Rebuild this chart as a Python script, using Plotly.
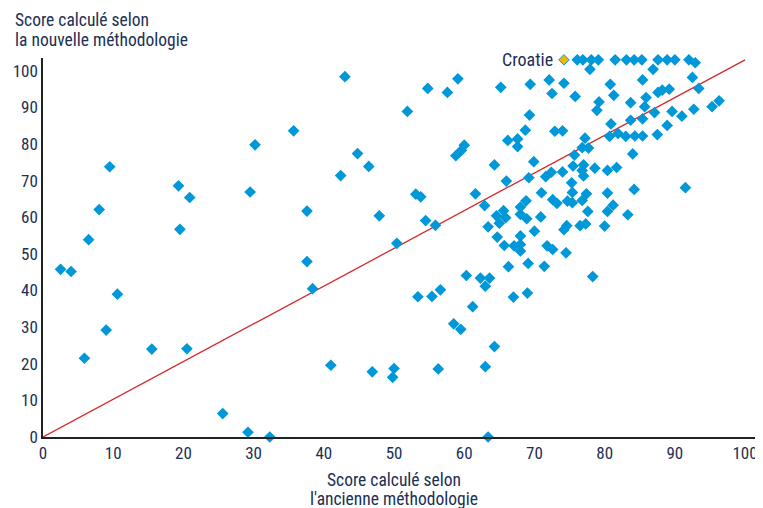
import plotly.graph_objects as go

# Old methodology score (x) and new methodology score (y)
old_score = [
    2.5, 4.0, 5.9, 6.5, 8.0, 9.5, 9.0, 10.6, 15.5, 19.3, 19.5, 20.9, 20.5, 25.6, 29.2, 29.5, 30.2, 32.3,
    43.0, 54.8, 59.1, 57.6, 51.9, 35.7, 44.8, 46.4, 42.4, 37.6, 47.9, 58.8, 59.6, 60.0, 53.1, 53.8,
    61.6, 62.9, 54.5, 55.9, 50.4, 37.6, 38.4, 63.4, 60.3, 62.3, 63.0, 63.6, 53.4, 55.4, 56.6, 61.2,
    58.5, 59.5, 41.0, 46.9, 50.0, 49.8, 56.3, 63.0, 63.4, 67.0, 69.0, 64.3,
    65.2, 69.4, 72.1, 74.2, 72.5, 75.8, 80.8, 81.3, 85.4, 92.5, 93.4, 87.6, 88.2, 89.2, 85.9, 79.2,
    78.9, 83.7, 85.7, 87.1, 89.6, 91.0, 92.7, 95.3, 96.3, 69.3, 83.7, 85.4, 88.9, 68.7, 72.9, 74.0,
    80.9, 81.9, 80.7, 83.0, 84.3, 85.4, 87.5, 66.2, 67.6, 67.6, 77.2, 76.8, 77.7, 75.7, 84.0, 64.3,
    69.9, 77.0, 75.5, 72.4, 74.0, 76.8, 77.0, 78.6, 80.4, 81.7, 71.6, 66.0, 69.2, 75.3, 84.2, 71.0,
    75.4, 77.4, 80.4, 68.8, 68.0, 65.6, 64.6, 65.9, 68.0, 68.9, 65.0, 70.9, 72.6, 73.2, 74.7, 75.4,
    76.8, 77.6, 80.4, 81.2, 83.3, 80.0, 76.5, 77.3, 74.2, 74.6, 70.0, 64.7, 68.0, 65.7, 67.1, 68.0,
    68.0, 71.8, 72.6, 74.5, 66.3, 69.1, 71.4, 78.3, 91.5, 77.9, 86.9,
    76.1, 76.9, 78.1, 79.1, 81.5, 83.1, 84.2, 85.3, 87.6, 88.9, 90.0, 92.0, 92.9,
]
new_score = [
    45.8, 45.2, 21.5, 53.9, 62.1, 73.8, 29.2, 39.0, 24.0, 68.6, 56.7, 65.4, 24.1, 6.4, 1.3, 66.9, 79.8, 0.0,
    98.4, 95.2, 97.8, 94.1, 88.9, 83.6, 77.4, 73.9, 71.4, 61.7, 60.4, 76.8, 78.3, 79.7, 66.3, 65.6,
    66.4, 63.2, 59.1, 57.8, 52.9, 47.9, 40.5, 57.4, 44.1, 43.4, 41.2, 43.4, 38.3, 38.4, 40.2, 35.6,
    30.9, 29.4, 19.6, 17.8, 18.7, 16.3, 18.6, 19.2, 0.0, 38.2, 39.3, 24.7,
    95.5, 96.3, 97.5, 96.6, 93.8, 93.0, 96.3, 93.3, 97.5, 98.2, 95.2, 94.1, 94.7, 95.0, 92.7, 91.5,
    89.2, 91.3, 90.2, 88.6, 88.9, 87.6, 89.5, 90.2, 91.8, 87.9, 86.5, 86.9, 85.1, 83.8, 83.5, 83.6,
    85.5, 82.9, 82.1, 82.1, 82.2, 82.2, 82.6, 81.0, 81.4, 79.3, 81.6, 79.0, 78.9, 77.0, 77.3, 74.3,
    75.2, 74.3, 74.0, 72.3, 72.4, 72.8, 71.3, 73.4, 72.8, 73.6, 71.1, 69.9, 70.8, 69.4, 67.6, 66.7,
    66.8, 66.4, 66.6, 64.5, 62.8, 61.8, 60.4, 59.9, 60.8, 59.6, 58.4, 60.1, 64.8, 63.8, 64.4, 64.0,
    64.6, 61.6, 61.6, 63.3, 60.7, 57.6, 57.7, 58.2, 56.6, 57.7, 56.2, 54.6, 54.9, 52.3, 52.2, 52.6,
    50.8, 52.2, 51.2, 50.3, 46.5, 47.4, 46.6, 43.8, 68.1, 100.4, 100.4,
    103.0, 103.0, 103.0, 103.0, 103.0, 103.0, 103.0, 103.0, 103.0, 103.0, 103.0, 103.0, 102.2,
]

highlight_name = ["Croatie"]
highlight_old = [74.2]
highlight_new = [103.0]

diag_x = [0, 100]
diag_y = [0, 103]

x_ticks = [0, 10, 20, 30, 40, 50, 60, 70, 80, 90, 100]
y_ticks = [0, 10, 20, 30, 40, 50, 60, 70, 80, 90, 100]

y_title_lines = ["Score calculé selon", "la nouvelle méthodologie"]
x_title_lines = ["Score calculé selon", "l'ancienne méthodologie"]

FONT = "Liberation Sans Narrow, Roboto Condensed, Arial Narrow, DejaVu Sans Condensed, sans-serif"
NAVY = "#1c2f55"
BLUE = "#0098d8"

fig = go.Figure()
fig.add_trace(go.Scatter(
    x=diag_x, y=diag_y, mode="lines",
    line=dict(color="#d42a2a", width=1.3),
    hoverinfo="skip", showlegend=False,
))
fig.add_trace(go.Scatter(
    x=old_score, y=new_score, mode="markers",
    marker=dict(symbol="diamond", size=9, color=BLUE, line=dict(width=0)),
    cliponaxis=False, showlegend=False,
))
fig.add_trace(go.Scatter(
    x=highlight_old, y=highlight_new, mode="markers",
    marker=dict(symbol="diamond", size=8, color="#f2b705", line=dict(width=1, color=BLUE)),
    cliponaxis=False, showlegend=False,
))

annotations = []
for line, ypos in zip(y_title_lines, [1.100, 1.047]):
    annotations.append(dict(text=line, xref="paper", yref="paper", x=-0.042, y=ypos,
                            xanchor="left", yanchor="middle", showarrow=False,
                            font=dict(family=FONT, size=17.5, color=NAVY)))
for line, ypos in zip(x_title_lines, [-0.114, -0.163]):
    annotations.append(dict(text=line, xref="paper", yref="paper", x=0.4916, y=ypos,
                            xanchor="center", yanchor="middle", showarrow=False,
                            font=dict(family=FONT, size=17.5, color=NAVY)))
for name, hx, hy in zip(highlight_name, highlight_old, highlight_new):
    annotations.append(dict(text=name, x=hx, y=hy, xref="x", yref="y", xanchor="right",
                            yanchor="middle", xshift=-9, showarrow=False,
                            font=dict(family=FONT, size=18, color=NAVY)))

fig.update_layout(
    width=755, height=500,
    margin=dict(l=35, r=6, t=50, b=71),
    paper_bgcolor="white", plot_bgcolor="white",
    font=dict(family=FONT, size=15, color=NAVY),
    xaxis=dict(
        range=[0, 101.7], tickvals=x_ticks, ticktext=[str(v) for v in x_ticks],
        showgrid=False, zeroline=False, showline=True, linecolor="#222222", linewidth=1.5,
        ticks="", automargin=False, tickfont=dict(family=FONT, size=17, color=NAVY),
    ),
    yaxis=dict(
        range=[0, 103.5], tickvals=y_ticks, ticktext=[str(v) for v in y_ticks],
        showgrid=False, zeroline=False, showline=True, linecolor="#222222", linewidth=1.5,
        ticks="", automargin=False, tickfont=dict(family=FONT, size=17, color=NAVY),
    ),
    annotations=annotations,
)

fig.write_html("out.html")
